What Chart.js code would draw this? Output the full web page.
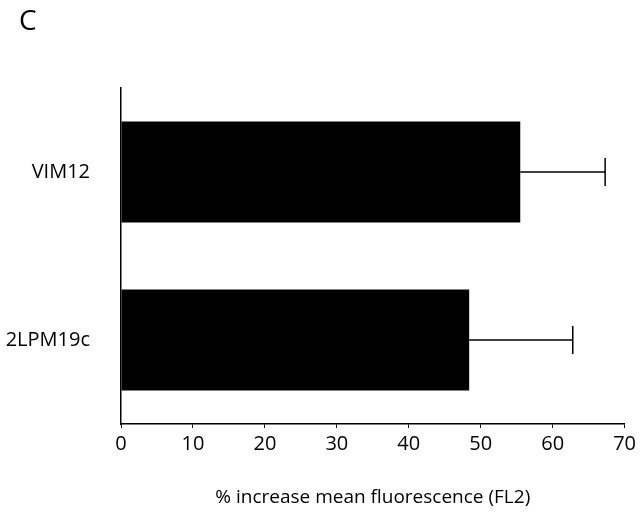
<!DOCTYPE html>
<html>
<head>
<meta charset="utf-8">
<script src="https://cdn.jsdelivr.net/npm/chart.js@4.4.1/dist/chart.umd.min.js"></script>
<style>
  html, body { margin: 0; padding: 0; background: #fff; }
  #wrap { position: relative; width: 640px; height: 519px; }
  #panel { position: absolute; left: 19px; top: 0px; font: 28px "Open Sans", sans-serif; color: #000; }
</style>
</head>
<body>
<div id="wrap">
  <canvas id="chart" width="640" height="519"></canvas>
  <div id="panel">C</div>
</div>
<script>
  // data
  const categories = ['VIM12', '2LPM19c'];
  const means = [55.5, 48.4];
  const errors = [11.8, 14.4];
  const xMin = 0;
  const xMax = 70;
  const xStep = 10;

  const fontFamily = '"Open Sans", sans-serif';

  // error bars, right side only
  const errorBars = {
    id: 'errorBars',
    afterDatasetsDraw(chart) {
      const ctx = chart.ctx;
      const xScale = chart.scales.x;
      const meta = chart.getDatasetMeta(0);
      ctx.save();
      ctx.strokeStyle = '#000';
      ctx.lineWidth = 1.5;
      meta.data.forEach((bar, i) => {
        const x0 = xScale.getPixelForValue(means[i]);
        const x1 = xScale.getPixelForValue(means[i] + errors[i]);
        const y = bar.y;
        ctx.beginPath();
        ctx.moveTo(x0, y);
        ctx.lineTo(x1, y);
        ctx.moveTo(x1, y - 14);
        ctx.lineTo(x1, y + 14);
        ctx.stroke();
      });
      ctx.restore();
    }
  };

  new Chart(document.getElementById('chart'), {
    type: 'bar',
    data: {
      labels: categories,
      datasets: [{
        data: means,
        backgroundColor: '#000',
        borderWidth: 0,
        barPercentage: 0.6,
        categoryPercentage: 1
      }]
    },
    options: {
      indexAxis: 'y',
      responsive: false,
      animation: false,
      layout: { padding: { top: 88, right: 14, left: 0, bottom: 0 } },
      plugins: {
        legend: { display: false },
        tooltip: { enabled: false }
      },
      scales: {
        x: {
          type: 'linear',
          min: xMin,
          max: xMax,
          afterFit(scale) { scale.height = 95; },
          border: { color: '#000', width: 1.5 },
          grid: { drawOnChartArea: false, drawTicks: true, tickLength: 4, color: '#000' },
          ticks: {
            stepSize: xStep,
            color: '#000',
            padding: 4,
            font: { family: fontFamily, size: 20 }
          },
          title: {
            display: true,
            text: '% increase mean fluorescence (FL2)',
            color: '#000',
            font: { family: fontFamily, size: 19 },
            padding: { top: 0, bottom: 10 }
          }
        },
        y: {
          afterFit(scale) { scale.width = 121; },
          border: { color: '#000', width: 1.5 },
          grid: { display: false, drawTicks: false },
          ticks: {
            color: '#000',
            padding: 31,
            font: { family: fontFamily, size: 20 }
          }
        }
      }
    },
    plugins: [errorBars]
  });
</script>
</body>
</html>
